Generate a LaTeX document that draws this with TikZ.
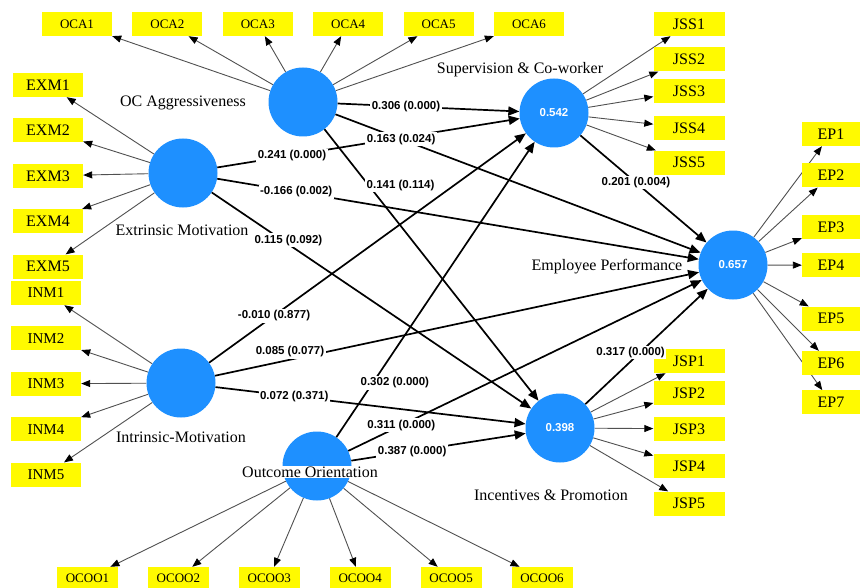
\documentclass[tikz,border=0pt]{standalone}
\usepackage{fontspec}
\setmainfont{Liberation Serif}
\setsansfont{Liberation Sans}
\usepackage{tikz}
\usetikzlibrary{arrows.meta, positioning, backgrounds}
\definecolor{latentblue}{RGB}{30,144,255}
\definecolor{itemyellow}{RGB}{255,250,0}
\definecolor{loadgray}{RGB}{80,80,80}

\begin{document}
\begin{tikzpicture}[
    x=1pt, y=-1pt,
    latent/.style={circle, fill=latentblue, minimum size=69pt, inner sep=0pt, text=white, font=\sffamily\bfseries\fontsize{11.5}{12}\selectfont},
    item/.style={fill=itemyellow, minimum width=70pt, minimum height=24pt, inner sep=0pt, font=\fontsize{16}{16}\selectfont},
    smallitem/.style={item, font=\fontsize{13}{13}\selectfont},
    tag/.style={fill=white, inner sep=1pt, font=\fontsize{16}{16}\selectfont},
    loading/.style={-{Triangle[length=9pt, width=7pt, black]}, draw=loadgray, line width=0.9pt},
    effect/.style={-{Triangle[length=11pt, width=9pt]}, line width=1.7pt},
    coef/.style={fill=white, inner sep=1.5pt, font=\sffamily\bfseries\fontsize{11.5}{12}\selectfont}
]
    \useasboundingbox (0,0) rectangle (861,588);

    % Latent variables
    \node[latent] (oca) at (303,102) {};
    \node[latent] (exm) at (183,173) {};
    \node[latent] (inm) at (181,383) {};
    \node[latent] (oco) at (317,466) {};
    \node[latent] (jss) at (554,113) {0.542};
    \node[latent] (ep) at (733,265) {0.657};
    \node[latent] (jsp) at (560,428) {0.398};

    % Indicators
    \node[smallitem] (oca1) at (77,24) {OCA1};
    \node[smallitem, right=20pt of oca1] (oca2) {OCA2};
    \node[smallitem, right=20pt of oca2] (oca3) {OCA3};
    \node[smallitem, right=20pt of oca3] (oca4) {OCA4};
    \node[smallitem, right=20pt of oca4] (oca5) {OCA5};
    \node[smallitem, right=20pt of oca5] (oca6) {OCA6};

    \node[item] (exm1) at (48,85) {EXM1};
    \node[item, below=21pt of exm1] (exm2) {EXM2};
    \node[item, below=21pt of exm2] (exm3) {EXM3};
    \node[item, below=21pt of exm3] (exm4) {EXM4};
    \node[item, below=21pt of exm4] (exm5) {EXM5};

    \node[item, font=\fontsize{15}{15}\selectfont] (inm1) at (46,293) {INM1};
    \node[item, font=\fontsize{15}{15}\selectfont, below=21pt of inm1] (inm2) {INM2};
    \node[item, font=\fontsize{15}{15}\selectfont, below=21pt of inm2] (inm3) {INM3};
    \node[item, font=\fontsize{15}{15}\selectfont, below=21pt of inm3] (inm4) {INM4};
    \node[item, font=\fontsize{15}{15}\selectfont, below=21pt of inm4] (inm5) {INM5};

    \node[smallitem, minimum width=61pt, minimum height=22pt] (oco1) at (87.5,578) {OCOO1};
    \node[smallitem, minimum width=61pt, minimum height=22pt, right=29.5pt of oco1] (oco2) {OCOO2};
    \node[smallitem, minimum width=61pt, minimum height=22pt, right=29.5pt of oco2] (oco3) {OCOO3};
    \node[smallitem, minimum width=61pt, minimum height=22pt, right=29.5pt of oco3] (oco4) {OCOO4};
    \node[smallitem, minimum width=61pt, minimum height=22pt, right=29.5pt of oco4] (oco5) {OCOO5};
    \node[smallitem, minimum width=61pt, minimum height=22pt, right=29.5pt of oco5] (oco6) {OCOO6};

    \node[item, minimum width=71pt] (jss1) at (689,24) {JSS1};
    \node[item, minimum width=71pt, below=11pt of jss1] (jss2) {JSS2};
    \node[item, minimum width=71pt, below=7pt of jss2] (jss3) {JSS3};
    \node[item, minimum width=71pt, below=13pt of jss3] (jss4) {JSS4};
    \node[item, minimum width=71pt, below=10pt of jss4] (jss5) {JSS5};

    \node[item, minimum width=71pt] (jsp1) at (689,361) {JSP1};
    \node[item, minimum width=71pt, below=8pt of jsp1] (jsp2) {JSP2};
    \node[item, minimum width=71pt, below=11pt of jsp2] (jsp3) {JSP3};
    \node[item, minimum width=71pt, below=13pt of jsp3] (jsp4) {JSP4};
    \node[item, minimum width=71pt, below=13pt of jsp4] (jsp5) {JSP5};

    \node[item, minimum width=58pt] (ep1) at (831,134) {EP1};
    \node[item, minimum width=58pt, below=17pt of ep1] (ep2) {EP2};
    \node[item, minimum width=58pt, below=27pt of ep2] (ep3) {EP3};
    \node[item, minimum width=58pt, below=14pt of ep3] (ep4) {EP4};
    \node[item, minimum width=58pt, below=29pt of ep4] (ep5) {EP5};
    \node[item, minimum width=58pt, below=20pt of ep5] (ep6) {EP6};
    \node[item, minimum width=58pt, below=15pt of ep6] (ep7) {EP7};

    % Loadings
    \begin{scope}[on background layer]
    \draw[loading] (oca) -- (oca1);
    \draw[loading] (oca) -- (oca2);
    \draw[loading] (oca) -- (oca3);
    \draw[loading] (oca) -- (oca4);
    \draw[loading] (oca) -- (oca5);
    \draw[loading] (oca) -- (oca6);
    \draw[loading] (exm) -- (exm1);
    \draw[loading] (exm) -- (exm2);
    \draw[loading] (exm) -- (exm3);
    \draw[loading] (exm) -- (exm4);
    \draw[loading] (exm) -- (exm5);
    \draw[loading] (inm) -- (inm1);
    \draw[loading] (inm) -- (inm2);
    \draw[loading] (inm) -- (inm3);
    \draw[loading] (inm) -- (inm4);
    \draw[loading] (inm) -- (inm5);
    \draw[loading] (oco) -- (oco1);
    \draw[loading] (oco) -- (oco2);
    \draw[loading] (oco) -- (oco3);
    \draw[loading] (oco) -- (oco4);
    \draw[loading] (oco) -- (oco5);
    \draw[loading] (oco) -- (oco6);
    \draw[loading] (jss) -- (jss1);
    \draw[loading] (jss) -- (jss2);
    \draw[loading] (jss) -- (jss3);
    \draw[loading] (jss) -- (jss4);
    \draw[loading] (jss) -- (jss5);
    \draw[loading] (jsp) -- (jsp1);
    \draw[loading] (jsp) -- (jsp2);
    \draw[loading] (jsp) -- (jsp3);
    \draw[loading] (jsp) -- (jsp4);
    \draw[loading] (jsp) -- (jsp5);
    \draw[loading] (ep) -- (ep1);
    \draw[loading] (ep) -- (ep2);
    \draw[loading] (ep) -- (ep3);
    \draw[loading] (ep) -- (ep4);
    \draw[loading] (ep) -- (ep5);
    \draw[loading] (ep) -- (ep6);
    \draw[loading] (ep) -- (ep7);
    \end{scope}

    % Path coefficients
    \draw[effect] (exm) -- (jss) node[coef, pos=.247] {0.241 (0.000)};
    \draw[effect] (oca) -- (jss) node[coef, pos=.376] {0.306 (0.000)};
    \draw[effect] (oca) -- (ep) node[coef, pos=.18] {0.163 (0.024)};
    \draw[effect] (oca) -- (jsp) node[coef, pos=.206, xshift=32pt] {0.141 (0.114)};
    \draw[effect] (exm) -- (ep) node[coef, pos=.164] {-0.166 (0.002)};
    \draw[effect] (exm) -- (jsp) node[coef, pos=.24, yshift=4pt] {0.115 (0.092)};
    \draw[effect] (inm) -- (jss) node[coef, pos=.205] {-0.010 (0.877)};
    \draw[effect] (inm) -- (ep) node[coef, pos=.155, yshift=8pt] {0.085 (0.077)};
    \draw[effect] (inm) -- (jsp) node[coef, pos=.254] {0.072 (0.371)};
    \draw[effect] (oco) -- (jss) node[coef, pos=.184, xshift=22pt] {0.302 (0.000)};
    \draw[effect] (oco) -- (ep) node[coef, pos=.15] {0.311 (0.000)};
    \draw[effect] (oco) -- (jsp) node[coef, pos=.349] {0.387 (0.000)};
    \draw[effect] (jss) -- (ep) node[coef, pos=.44] {0.201 (0.004)};
    \draw[effect] (jsp) -- (ep) node[coef, pos=.37, yshift=9pt] {0.317 (0.000)};

    % Construct names
    \node[tag] (ocaname) at (183,103) {OC Aggressiveness};
    \node[tag] (exmname) at (182,230) {Extrinsic Motivation};
    \node[tag] (inmname) at (181,437) {Intrinsic-Motivation};
    \node[tag] (oconame) at (310,472) {Outcome Orientation};
    \node[tag] (jssname) at (520,70) {Supervision \& Co-worker};
    \node[tag] (epname) at (607,267) {Employee Performance};
    \node[tag] (jspname) at (551,495) {Incentives \& Promotion};
\end{tikzpicture}
\end{document}
